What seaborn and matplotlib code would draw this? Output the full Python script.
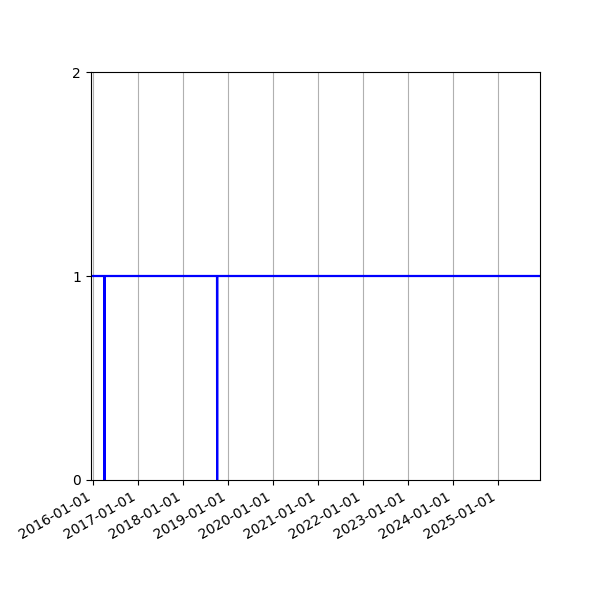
import matplotlib
matplotlib.use("Agg")
import matplotlib.pyplot as plt
import matplotlib.dates as mdates
import pandas as pd
import seaborn as sns

# value is 1 except on the two single days where it falls to 0
dates = ["2015-12-01", "2016-03-31", "2016-04-01", "2016-04-02",
         "2018-10-02", "2018-10-03", "2018-10-04", "2026-01-01"]
values = [1, 1, 0, 1, 1, 0, 1, 1]
y_ticks = [0, 1, 2]

df = pd.DataFrame({"date": pd.to_datetime(dates), "value": values})

fig, ax = plt.subplots(figsize=(6, 6), dpi=100)
sns.lineplot(data=df, x="date", y="value", color="blue", linewidth=1.6, ax=ax)

ax.set_xlim(pd.Timestamp("2015-12-10"), pd.Timestamp("2025-12-08"))
ax.set_ylim(0, 2)
ax.set_yticks(y_ticks)
ax.xaxis.set_major_locator(mdates.YearLocator())
ax.xaxis.set_major_formatter(mdates.DateFormatter("%Y-%m-%d"))
ax.grid(axis="x")
ax.set_xlabel("")
ax.set_ylabel("")
fig.autofmt_xdate()
fig.subplots_adjust(left=0.151, right=0.9, top=0.88, bottom=0.2)
plt.savefig("out.png")
plt.close()
